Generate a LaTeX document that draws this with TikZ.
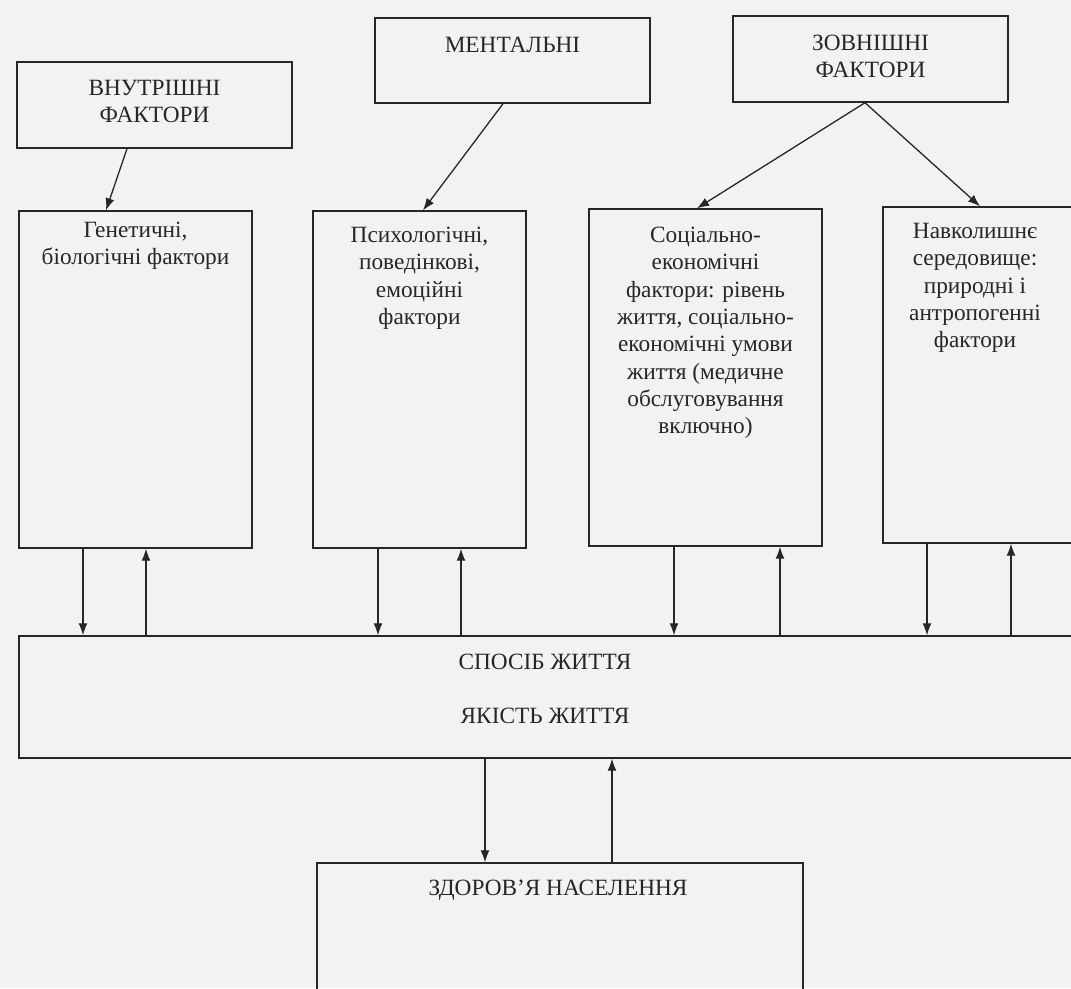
\documentclass[tikz,border=0pt]{standalone}
\usepackage{fontspec}
\setmainfont{Liberation Serif}
\usetikzlibrary{arrows.meta}
\begin{document}
\begin{tikzpicture}[x=1pt,y=-1pt,
  box/.style={draw=black!85,line width=1.4pt,minimum width=#1,inner sep=0pt},
  lbl/.style={anchor=north,align=center,inner sep=0pt,font=\fontsize{23.3}{27.3}\selectfont,text=black!85},
  arr/.style={draw=black!85,line width=1.3pt,-{Latex[length=12pt,width=9pt]}},
  ln/.style={draw=black!85,line width=1.2pt}]
\useasboundingbox[fill=black!5] (0,0) rectangle (1071,988);
% boxes
\node[box=275pt,minimum height=86pt] (inner) at (154.5,105) {};
\node[box=275pt,minimum height=85pt] (ment) at (512.5,60.5) {};
\node[box=275pt,minimum height=86pt] (outer) at (870.5,59) {};
\node[box=233pt,minimum height=337pt] (gen) at (135.5,379.5) {};
\node[box=213pt,minimum height=337pt] (psy) at (419.5,379.5) {};
\node[box=233pt,minimum height=337pt] (soc) at (705.5,377.5) {};
\node[box=191pt,minimum height=336pt] (nav) at (978.5,375) {};
\node[box=1056pt,minimum height=122pt] (life) at (547,697) {};
\node[box=486pt,minimum height=140pt] (health) at (560,933) {};
% texts
\node[lbl] (tinner) at (154.5,80) {ВНУТРІШНІ\\ФАКТОРИ};
\node[lbl] (tment) at (512.5,37) {МЕНТАЛЬНІ};
\node[lbl] (touter) at (870.5,35) {ЗОВНІШНІ\\ФАКТОРИ};
\node[lbl] (tgen) at (135.5,222) {Генетичні,\\біологічні фактори};
\node[lbl] (tpsy) at (419.5,227) {Психологічні,\\поведінкові,\\емоційні\\фактори};
\node[lbl] (tsoc) at (705.5,227) {Соціально-\\економічні\\фактори: рівень\\життя, соціально-\\економічні умови\\життя (медичне\\обслуговування\\включно)};
\node[lbl] (tnav) at (975,223) {Навколишнє\\середовище:\\природні і\\антропогенні\\фактори};
\node[lbl] (tlife) at (545,654) {СПОСІБ ЖИТТЯ\\[27pt]ЯКІСТЬ ЖИТТЯ};
\node[lbl] (thealth) at (558,880) {ЗДОРОВ’Я НАСЕЛЕННЯ};
% x positions
\foreach \n/\x in {a/127,b/106,c/503,d/423,e/865,f/697,g/980,
  g1/83,g2/146,p1/378,p2/461,s1/674,s2/780,n1/927,n2/1011,h1/485,h2/612}
  \coordinate (x\n) at (\x,0);
% diagonal arrows
\draw[arr] (inner.south -| xa) -- (gen.north -| xb);
\draw[arr] (ment.south -| xc) -- (psy.north -| xd);
\draw[arr] (outer.south -| xe) -- (soc.north -| xf);
\draw[arr] (outer.south -| xe) -- (nav.north -| xg);
% vertical arrows
\draw[arr] (gen.south -| xg1) -- (life.north -| xg1);
\draw[arr] (life.north -| xg2) -- (gen.south -| xg2);
\draw[arr] (psy.south -| xp1) -- (life.north -| xp1);
\draw[arr] (life.north -| xp2) -- (psy.south -| xp2);
\draw[arr] (soc.south -| xs1) -- (life.north -| xs1);
\draw[arr] (life.north -| xs2) -- (soc.south -| xs2);
\draw[arr] (nav.south -| xn1) -- (life.north -| xn1);
\draw[arr] (life.north -| xn2) -- (nav.south -| xn2);
\draw[arr] (life.south -| xh1) -- (health.north -| xh1);
\draw[arr] (health.north -| xh2) -- (life.south -| xh2);
\end{tikzpicture}
\end{document}
